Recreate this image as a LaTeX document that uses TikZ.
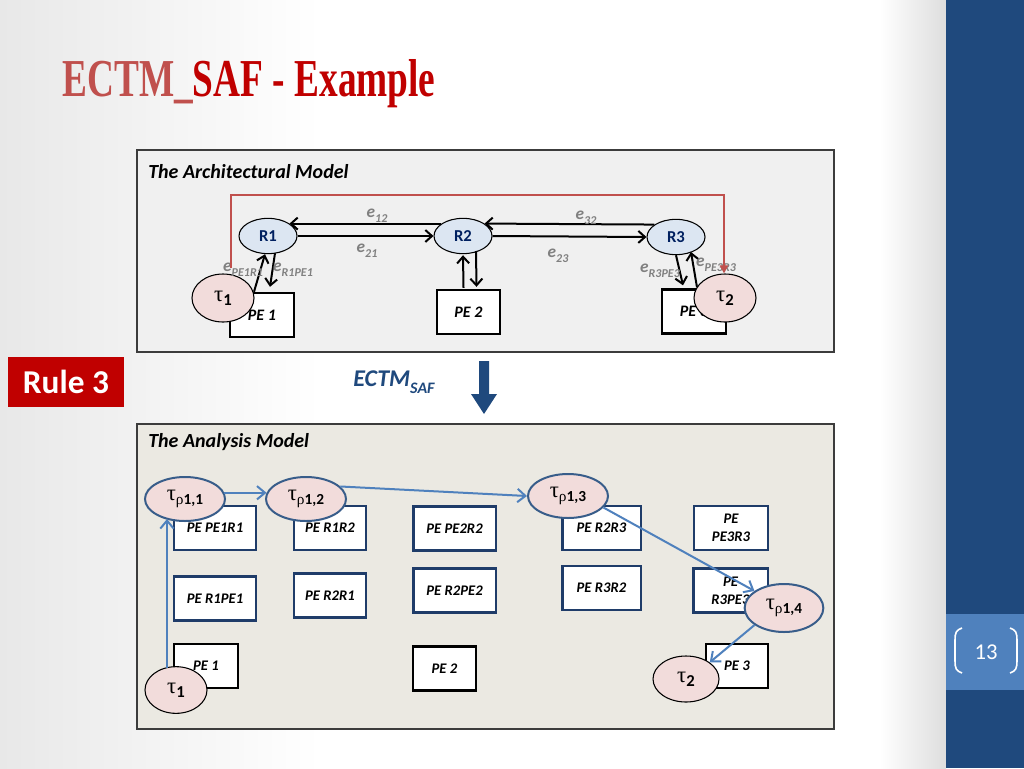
\documentclass[tikz,border=0pt]{standalone}
\usepackage{fontspec}
\setmainfont{Liberation Serif}
\newfontfamily\calfont{Carlito}
\usetikzlibrary{arrows.meta,shapes.geometric,calc}
\definecolor{titlered}{RGB}{192,0,0}
\definecolor{titlepink}{RGB}{192,80,77}
\definecolor{barblue}{RGB}{31,73,125}
\definecolor{barlight}{RGB}{79,129,189}
\definecolor{topfill}{RGB}{240,240,240}
\definecolor{botfill}{RGB}{235,233,226}
\definecolor{panelline}{RGB}{60,60,60}
\definecolor{rfill}{RGB}{220,230,242}
\definecolor{rtext}{RGB}{0,32,96}
\definecolor{taufill}{RGB}{242,220,219}
\definecolor{tpborder}{RGB}{56,93,138}
\definecolor{boxblue}{RGB}{31,60,105}
\definecolor{arrblue}{RGB}{79,129,189}
\definecolor{redline}{RGB}{192,80,77}
\definecolor{elabel}{RGB}{128,128,128}
\newcommand\lsub[2]{\raisebox{-0.3em}{\fontsize{#1}{#1}\selectfont #2}}
\newcommand\tlab[2]{{\rmfamily\mdseries\upshape\fontsize{17}{17}\selectfont τ}\lsub{#1}{\calfont\bfseries\upshape #2}}
\newcommand\rhoch{{\rmfamily\mdseries\upshape ρ}}
\tikzset{
 rnode/.style={ellipse, draw=black, line width=0.8pt, fill=rfill, minimum width=43.5pt, minimum height=26.5pt, inner sep=0pt, font=\calfont\bfseries\fontsize{12.5}{13}\selectfont, text=rtext},
 taunode/.style={ellipse, draw=black, line width=0.8pt, fill=taufill, minimum width=46.5pt, minimum height=36pt, inner sep=0pt},
 tpnode/.style={ellipse, draw=tpborder, line width=1.5pt, fill=taufill, minimum width=60pt, minimum height=33pt, inner sep=0pt},
 pebox/.style={rectangle, draw=black, line width=1.8pt, fill=white, minimum width=48pt, minimum height=33pt, inner sep=0pt, font=\calfont\bfseries\itshape\fontsize{12}{13}\selectfont},
 anbox/.style={rectangle, draw=boxblue, line width=2pt, fill=white, minimum height=33pt, inner sep=0pt, align=center, font=\calfont\bfseries\itshape\fontsize{11}{13.5}\selectfont},
 blk/.style={draw=black, line width=1.5pt, -{Straight Barb[length=5pt,width=9pt]}},
 blu/.style={draw=arrblue, line width=1.5pt, -{Straight Barb[length=6pt,width=10pt]}},
 elab/.style={text=elabel, font=\calfont\bfseries\itshape\fontsize{13}{13}\selectfont, inner sep=0pt},
 ptitle/.style={anchor=west, inner sep=0pt, font=\calfont\bfseries\itshape\fontsize{15}{15}\selectfont},
}
\begin{document}
\begin{tikzpicture}[x=0.75pt,y=-0.75pt]
\useasboundingbox (0,0) rectangle (1024,768);
% background
\fill[white] (0,0) rectangle (1024,768);
\shade[left color=black!9, right color=white] (0,0) rectangle (320,768);
\shade[left color=white, right color=black!13] (880,0) rectangle (946,768);
\fill[barblue] (946,0) rectangle (1024,768);
\fill[barlight] (946,614) rectangle (1024,690);
\node[text=white, font=\calfont\fontsize{17}{17}\selectfont, inner sep=0pt] (pnum) at (986,652) {13};
\draw[white, line width=1.2pt] (962,628) .. controls (956,630) and (955,633) .. (955,640) -- (955,661) .. controls (955,668) and (956,671) .. (962,673);
\draw[white, line width=1.2pt] (1010,628) .. controls (1016,630) and (1017,633) .. (1017,640) -- (1017,661) .. controls (1017,668) and (1016,671) .. (1010,673);
% title
\node[anchor=base west, inner sep=0pt, font=\bfseries\fontsize{40}{40}\selectfont] (title) at (62,96) {\scalebox{0.70}[1]{\textcolor{titlepink}{ECTM\_}\textcolor{titlered}{SAF - Example}}};
% panels
\draw[panelline, line width=1.2pt, fill=topfill] (137,150) rectangle (834,352);
\draw[panelline, line width=1.2pt, fill=botfill] (137,424) rectangle (834,729);
\node[ptitle] (arch) at (148,172) {The Architectural Model};
\node[ptitle] (anal) at (148,442) {The Analysis Model};
% rule 3 and transformation arrow
\node[fill=titlered, text=white, minimum width=87pt, minimum height=37.5pt, inner sep=0pt, font=\calfont\bfseries\fontsize{25}{25}\selectfont] (rule) at (66,382) {Rule 3};
\node[text=barblue, inner sep=0pt, font=\calfont\bfseries\itshape\fontsize{18}{18}\selectfont] (ectm) at (394,382) {ECTM\lsub{12}{SAF}};
\fill[barblue] (479,361) -- (489,361) -- (489,394) -- (497,394) -- (484,414) -- (471,394) -- (479,394) -- cycle;
% ---------- architectural model ----------
\node[pebox] (PE1) at (262,315) {PE 1};
\node[pebox, minimum width=47pt] (PE2) at (468.5,312) {PE 2};
\node[pebox] (PE3) at (694,311.5) {PE 3};
\node[rnode] (R1) at (268,236) {R1};
\node[rnode] (R2) at (463,236) {R2};
\node[rnode] (R3) at (676,237) {R3};
\node[taunode] (tau1) at (223,298) {\tlab{12.5}{1}};
\node[taunode] (tau2) at (725,298) {\tlab{12.5}{2}};
\draw[blk] (R1.east) -- (R2.west);
\draw[blk] (R2.150) -- (R1.30);
\draw[blk] (R2.east) -- (R3.west);
\draw[blk] (R3.150) -- (R2.30);
\draw[blk] ($(PE1.north)+(-8,0)$) -- ($(R1.south)+(-3,0)$);
\draw[blk] ($(R1.south)+(7,-1)$) -- ($(PE1.north)+(8,-5)$);
\draw[blk] ($(PE2.north)+(-5,-1)$) -- ($(R2.south)+(0,1)$);
\draw[blk] ($(R2)+(13,15)$) -- ($(PE2.north)+(8,-2)$);
\draw[blk] (R3.south) -- ($(PE3.north)+(-11,-3)$);
\draw[blk] ($(PE3.north)+(3,-1)$) -- ($(R3)+(15,15)$);
\node[elab] (l12) at (377,216) {e\lsub{9}{12}};
\node[elab] (l21) at (367,251) {e\lsub{9}{21}};
\node[elab] (l32) at (586,218) {e\lsub{9}{32}};
\node[elab] (l23) at (558,256) {e\lsub{9}{23}};
\node[elab] (lpe1r1) at (243,270) {e\lsub{9}{PE1R1}};
\node[elab] (lr1pe1) at (293,270) {e\lsub{9}{R1PE1}};
\node[elab] (lr3pe3) at (660,271) {e\lsub{9}{R3PE3}};
\node[elab] (lpe3r3) at (716,265) {e\lsub{9}{PE3R3}};
\coordinate (rs) at (231,268);
\coordinate (rc) at (724,195);
\draw[redline, line width=1.6pt, -{Triangle[length=6pt,width=6pt]}] (rs) |- (rc) -- (rc |- tau2.north);
% ---------- analysis model ----------
\node[anbox, minimum width=61.5pt] (b11) at (215,528) {PE PE1R1};
\node[anbox, minimum width=54pt] (b12) at (330,528) {PE R1R2};
\node[anbox, minimum width=62pt] (b13) at (454.5,528.5) {PE PE2R2};
\node[anbox, minimum width=59pt] (b14) at (601.5,528) {PE R2R3};
\node[anbox, minimum width=55.5pt] (b15) at (731,528) {PE\\PE3R3};
\node[anbox, minimum width=61.5pt] (b21) at (215,598.5) {PE R1PE1};
\node[anbox, minimum width=54pt] (b22) at (330,595.5) {PE R2R1};
\node[anbox, minimum width=62pt] (b23) at (454.5,590.5) {PE R2PE2};
\node[anbox, minimum width=59pt] (b24) at (601.5,588) {PE R3R2};
\node[anbox, minimum width=56pt] (b25) at (730.5,590.5) {PE\\R3PE3};
\node[pebox, font=\calfont\bfseries\itshape\fontsize{11}{13}\selectfont] (b31) at (206,666) {PE 1};
\node[pebox, minimum width=47pt, font=\calfont\bfseries\itshape\fontsize{11}{13}\selectfont] (b32) at (444.5,668.5) {PE 2};
\node[pebox, minimum width=46.5pt, font=\calfont\bfseries\itshape\fontsize{11}{13}\selectfont] (b33) at (737,666) {PE 3};
\node[tpnode] (tp11) at (185,499) {\tlab{11.5}{\rhoch1,1}};
\node[tpnode] (tp12) at (306,499) {\tlab{11.5}{\rhoch1,2}};
\node[tpnode] (tp13) at (568,496) {\tlab{11.5}{\rhoch1,3}};
\node[tpnode, minimum width=59pt, minimum height=36pt] (tp14) at (784,608) {\tlab{11.5}{\rhoch1,4}};
\node[taunode, minimum height=35pt] (t1b) at (176,690) {\tlab{12.5}{1}};
\node[taunode, minimum width=49.5pt, minimum height=34.5pt] (t2b) at (686,679) {\tlab{12.5}{2}};
\draw[blu] ($(t1b)+(-9,-22)$) -- ($(tp11)+(-18,20)$);
\draw[blu] (tp11.9) -- (tp12.171);
\draw[blu] (tp12.20) -- (tp13.west);
\draw[blu] (tp13.-18) -- (tp14.150);
\draw[blu] (tp14.210) -- (t2b.35);
\end{tikzpicture}
\end{document}
